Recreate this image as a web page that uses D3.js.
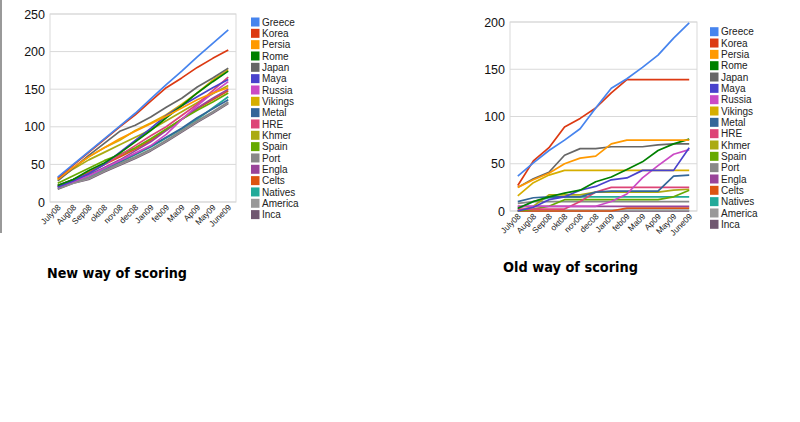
<!DOCTYPE html>
<html><head><meta charset="utf-8">
<script src="https://cdn.jsdelivr.net/npm/d3@7"></script>
<style>body{margin:0;background:#fff;}svg{display:block;}</style>
</head><body>
<svg id="c" width="800" height="422"></svg>
<script>
const months = ["July08","Aug08","Sep08","okt08","nov08","dec08","Jan09","feb09","Ma09","Ap09","May09","June09"];
const seriesNames = ["Greece","Korea","Persia","Rome","Japan","Maya","Russia","Vikings","Metal","HRE","Khmer","Spain","Port","Engla","Celts","Natives","America","Inca"];
const colors = ["#4684EE","#DC3912","#FF9900","#008000","#666666","#4942CC","#CB4AC5","#D6AE00","#336699","#DD4477","#AAAA11","#66AA00","#888888","#994499","#DD5511","#22AA99","#999999","#705770"];
const newTicks = [0,50,100,150,200,250];
const oldTicks = [0,50,100,150,200];
const newScores = [
 [33,50,67,84,101,118,137,156,174,193,211,229],
 [32,49,66,83,100,116,134,152,165,179,191,202],
 [30,46,60,72,84,94,104,114,125,136,145,152],
 [22,30,42,52,65,80,95,112,128,145,160,174],
 [28,45,62,78,94,102,113,126,138,153,165,178],
 [20,28,38,50,66,82,98,115,128,140,152,163],
 [20,27,35,45,55,65,75,90,110,128,145,160],
 [30,45,60,72,82,95,105,116,130,145,162,176],
 [22,30,36,45,54,64,74,86,98,112,124,136],
 [22,28,38,50,62,75,88,100,115,130,148,166],
 [30,44,56,66,76,86,96,108,120,132,144,155],
 [25,35,45,55,63,72,84,97,110,122,133,145],
 [18,26,32,42,51,60,70,82,95,108,120,133],
 [20,28,36,46,56,68,80,95,110,125,138,150],
 [22,30,40,50,60,70,82,96,110,124,136,148],
 [20,27,33,43,53,63,73,85,97,110,125,140],
 [18,25,31,41,50,59,69,81,94,107,119,132],
 [17,25,30,40,49,58,68,80,93,106,118,131]
];
const oldScores = [
 [37,51,64,75,87,109,130,140,152,165,183,199],
 [27,53,67,89,98,109,125,139,139,139,139,139],
 [25,33,40,50,56,58,71,75,75,75,75,75],
 [3,10,15,19,22,31,36,44,52,64,71,76],
 [25,34,41,59,66,66,68,68,68,70,71,71],
 [0,4,12,15,22,26,33,35,43,43,43,67],
 [5,5,5,5,5,5,10,18,35,48,60,65],
 [16,30,38,43,43,43,43,43,43,43,43,43],
 [10,14,15,15,15,20,21,21,21,21,37,38],
 [2,2,2,2,10,20,25,25,25,25,25,25],
 [0,5,17,17,17,20,20,20,20,20,22,23],
 [0,2,5,12,12,12,12,12,12,12,15,22],
 [8,10,10,10,10,10,10,10,10,10,10,10],
 [5,5,5,5,5,5,5,5,5,5,5,5],
 [0,0,0,0,0,0,0,3,3,3,3,3],
 [2,10,14,15,15,15,15,15,15,15,15,15],
 [1,1,1,1,1,1,1,1,1,1,1,1],
 [0,0,0,0,0,0,0,0,0,0,0,0]
];

const svg = d3.select("#c");
svg.append("line").attr("x1",1).attr("x2",1).attr("y1",0).attr("y2",233).attr("stroke","#999").attr("stroke-width",2);

function drawChart(cfg){
  const g = svg.append("g");
  const x = d3.scalePoint().domain(months).range([cfg.left,cfg.right]).padding(0.5);
  const y = d3.scaleLinear().domain([0,cfg.max]).range([cfg.bottom,cfg.top]);
  g.selectAll("line.grid").data(cfg.ticks).join("line")
    .attr("x1",cfg.left).attr("x2",cfg.right)
    .attr("y1",d=>y(d)).attr("y2",d=>y(d))
    .attr("stroke","#d9d9d9").attr("stroke-width",1);
  g.append("rect").attr("x",cfg.left).attr("y",cfg.top).attr("width",cfg.right-cfg.left).attr("height",cfg.bottom-cfg.top)
    .attr("fill","none").attr("stroke","#d9d9d9");
  g.selectAll("text.yl").data(cfg.ticks).join("text")
    .attr("x",cfg.left-5).attr("y",d=>y(d)+4.5)
    .attr("text-anchor","end").attr("font-family","Arial, Liberation Sans, sans-serif")
    .attr("font-size",12.5).attr("fill","#111").text(d=>d);
  g.selectAll("text.xl").data(months).join("text")
    .attr("transform",d=>`translate(${x(d)+3.5},${cfg.bottom+6}) rotate(-45)`)
    .attr("text-anchor","end").attr("font-family","Arial, Liberation Sans, sans-serif")
    .attr("font-size",8.3).attr("fill","#222").text(d=>d);
  const line = d3.line().x((d,i)=>x(months[i])).y(d=>y(d));
  const order = d3.range(cfg.data.length).reverse();
  g.selectAll("path.s").data(order).join("path")
    .attr("d",i=>line(cfg.data[i])).attr("fill","none")
    .attr("stroke",i=>colors[i]).attr("stroke-width",1.7).attr("stroke-linejoin","round");
  const lg = g.append("g");
  seriesNames.forEach((n,i)=>{
    const yy = cfg.legTop + i*11.33;
    lg.append("rect").attr("x",cfg.legX).attr("y",yy-4.5).attr("width",8.5).attr("height",9).attr("fill",colors[i]);
    lg.append("text").attr("x",cfg.legX+11).attr("y",yy+3.6)
      .attr("font-family","Arial, Liberation Sans, sans-serif").attr("font-size",10).attr("fill","#222").text(n);
  });
  g.append("text").attr("x",cfg.capX).attr("y",cfg.capY)
    .attr("font-family","Comic Sans MS, DejaVu Sans, sans-serif").attr("font-size",14).attr("font-weight","bold")
    .attr("textLength",cfg.capW).attr("lengthAdjust","spacingAndGlyphs")
    .attr("fill","#000").text(cfg.caption);
}

drawChart({left:50,right:236,top:14,bottom:202,max:250,ticks:newTicks,data:newScores,legX:251,legTop:22,capX:47,capY:278,capW:140,caption:"New way of scoring"});
drawChart({left:510,right:697,top:22,bottom:211,max:200,ticks:oldTicks,data:oldScores,legX:710,legTop:31.7,capX:503,capY:272,capW:135,caption:"Old way of scoring"});
</script>
</body></html>
